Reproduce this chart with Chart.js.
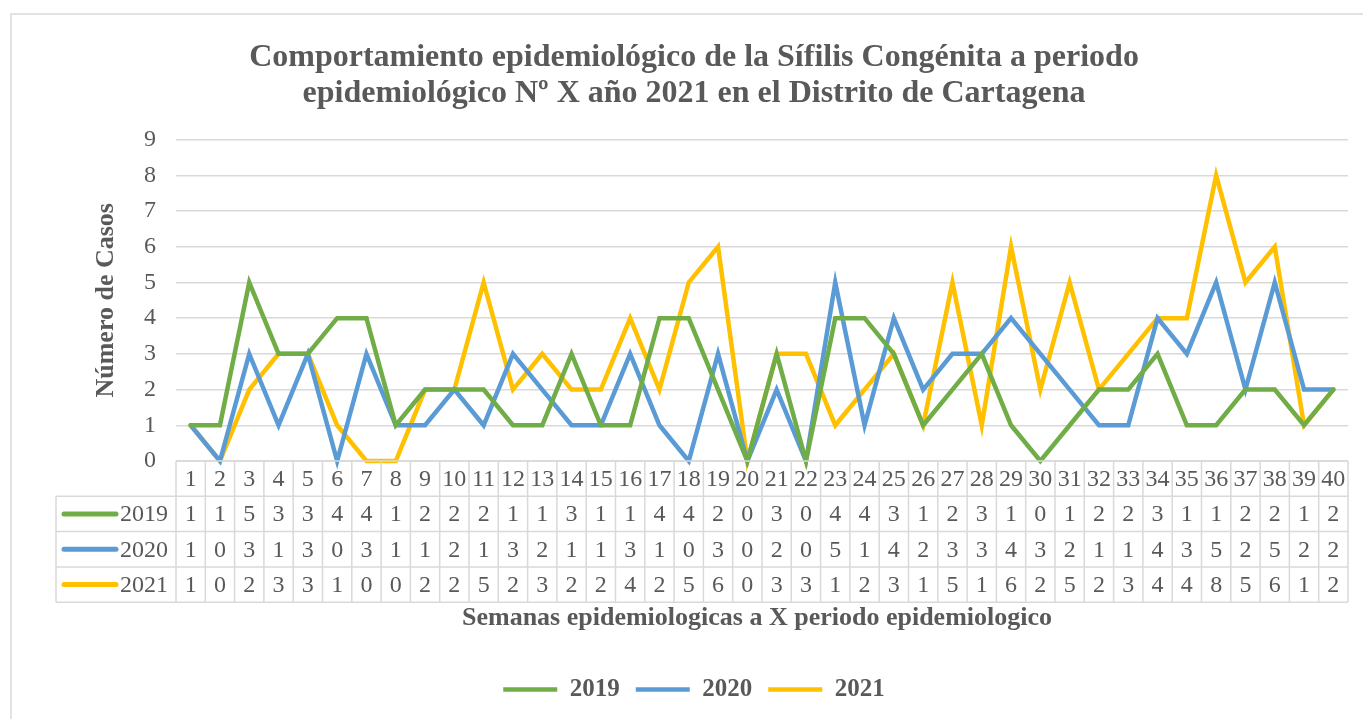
<!DOCTYPE html>
<html>
<head>
<meta charset="utf-8">
<script src="https://cdn.jsdelivr.net/npm/chart.js@4"></script>
<style>
  html, body { margin: 0; padding: 0; background: #fff; }
  #wrap { width: 1364px; height: 719px; }
</style>
</head>
<body>
<div id="wrap"><canvas id="myChart" width="1364" height="719"></canvas></div>
<script>
// semanas epidemiologicas 1..40
var weeks = [];
for (var w = 1; w <= 40; w++) weeks.push(String(w));

var cases2019 = [1, 1, 5, 3, 3, 4, 4, 1, 2, 2, 2, 1, 1, 3, 1, 1, 4, 4, 2, 0, 3, 0, 4, 4, 3, 1, 2, 3, 1, 0, 1, 2, 2, 3, 1, 1, 2, 2, 1, 2];
var cases2020 = [1, 0, 3, 1, 3, 0, 3, 1, 1, 2, 1, 3, 2, 1, 1, 3, 1, 0, 3, 0, 2, 0, 5, 1, 4, 2, 3, 3, 4, 3, 2, 1, 1, 4, 3, 5, 2, 5, 2, 2];
var cases2021 = [1, 0, 2, 3, 3, 1, 0, 0, 2, 2, 5, 2, 3, 2, 2, 4, 2, 5, 6, 0, 3, 3, 1, 2, 3, 1, 5, 1, 6, 2, 5, 2, 3, 4, 4, 8, 5, 6, 1, 2];
var years = ['2019', '2020', '2021'];
var colors = ['#70AD47', '#5B9BD5', '#FFC000'];

var textColor = '#595959';
var gridColor = '#d9d9d9';
var serif = "'Liberation Serif', 'Times New Roman', serif";

// draws the outer frame, data table and x title
var tablePlugin = {
    id: 'dataTable',
    beforeDraw: function (chart) {
        var ctx = chart.ctx;
        ctx.save();
        ctx.strokeStyle = gridColor;
        ctx.lineWidth = 1.5;
        ctx.beginPath();
        ctx.moveTo(11, 719);
        ctx.lineTo(11, 14);
        ctx.lineTo(1363, 14);
        ctx.stroke();
        ctx.restore();
    },
    afterDraw: function (chart) {
        var ctx = chart.ctx;
        var xs = chart.scales.x;
        var area = chart.chartArea;
        var colW = (area.right - area.left) / weeks.length;
        var top = area.bottom;
        var rowH = 35.3;
        var labelLeft = 56;
        var series = [cases2019, cases2020, cases2021];

        ctx.save();
        ctx.strokeStyle = gridColor;
        ctx.lineWidth = 1.5;
        ctx.beginPath();
        // axis / header top
        ctx.moveTo(area.left, top);
        ctx.lineTo(area.right, top);
        // column lines
        for (var i = 0; i <= weeks.length; i++) {
            var x = area.left + i * colW;
            ctx.moveTo(x, top);
            ctx.lineTo(x, top + rowH * 4);
        }
        // row lines
        for (var r = 1; r <= 4; r++) {
            ctx.moveTo(labelLeft, top + rowH * r);
            ctx.lineTo(area.right, top + rowH * r);
        }
        ctx.moveTo(labelLeft, top + rowH);
        ctx.lineTo(labelLeft, top + rowH * 4);
        ctx.stroke();

        ctx.fillStyle = textColor;
        ctx.font = '24px ' + serif;
        ctx.textAlign = 'center';
        ctx.textBaseline = 'middle';
        for (var j = 0; j < weeks.length; j++) {
            var cx = xs.getPixelForValue(j);
            ctx.fillText(weeks[j], cx, top + rowH / 2 + 1);
            for (var s = 0; s < series.length; s++) {
                ctx.fillText(String(series[s][j]), cx, top + rowH * (s + 1.5) + 1);
            }
        }

        // row labels with legend keys
        for (var k = 0; k < years.length; k++) {
            var cy = top + rowH * (k + 1.5);
            ctx.strokeStyle = colors[k];
            ctx.lineWidth = 5;
            ctx.lineCap = 'round';
            ctx.beginPath();
            ctx.moveTo(64, cy);
            ctx.lineTo(116, cy);
            ctx.stroke();
            ctx.fillStyle = textColor;
            ctx.textAlign = 'left';
            ctx.fillText(years[k], 120, cy + 1);
        }

        // x axis title
        ctx.font = 'bold 26px ' + serif;
        ctx.textAlign = 'center';
        ctx.fillText('Semanas epidemiologicas a X periodo epidemiologico', 757, 618);
        ctx.restore();
    }
};

function makeSet(label, data, color) {
    return {
        label: label,
        data: data,
        borderColor: color,
        backgroundColor: color,
        borderWidth: 4.5,
        borderCapStyle: 'round',
        borderJoinStyle: 'miter',
        pointRadius: 0,
        pointHoverRadius: 0,
        tension: 0,
        clip: false,
        fill: false
    };
}

var ctx = document.getElementById('myChart').getContext('2d');
var myChart = new Chart(ctx, {
    type: 'line',
    data: {
        labels: weeks,
        datasets: [
            makeSet(years[0], cases2019, colors[0]),
            makeSet(years[1], cases2020, colors[1]),
            makeSet(years[2], cases2021, colors[2])
        ]
    },
    plugins: [tablePlugin],
    options: {
        responsive: false,
        animation: false,
        events: [],
        layout: { padding: { left: 40, right: 16, top: 0, bottom: 7 } },
        plugins: {
            title: {
                display: true,
                text: ['Comportamiento epidemiológico de la Sífilis Congénita a periodo',
                       'epidemiológico Nº X año 2021 en el Distrito de Cartagena'],
                color: textColor,
                font: { family: serif, size: 32, weight: 'bold', lineHeight: 1.15 },
                padding: { top: 39, bottom: 27 }
            },
            legend: {
                position: 'bottom',
                labels: {
                    usePointStyle: true,
                    pointStyle: 'line',
                    pointStyleWidth: 54,
                    boxHeight: 25,
                    color: textColor,
                    font: { family: serif, size: 25, weight: 'bold' },
                    padding: 16
                }
            },
            tooltip: { enabled: false }
        },
        scales: {
            x: {
                offset: true,
                grid: { display: false },
                border: { display: false },
                ticks: { display: false },
                afterFit: function (scale) { scale.height = 200; }
            },
            y: {
                min: 0,
                max: 9,
                ticks: {
                    stepSize: 1,
                    color: textColor,
                    font: { family: serif, size: 24 },
                    padding: 20
                },
                grid: { color: gridColor, lineWidth: 1.5, drawTicks: false },
                border: { display: false },
                title: {
                    display: true,
                    text: 'Número de Casos',
                    color: textColor,
                    font: { family: serif, size: 26, weight: 'bold' },
                    padding: { top: 51, bottom: 0 }
                },
                afterFit: function (scale) { scale.width = 136; }
            }
        }
    }
});
</script>
</body>
</html>
